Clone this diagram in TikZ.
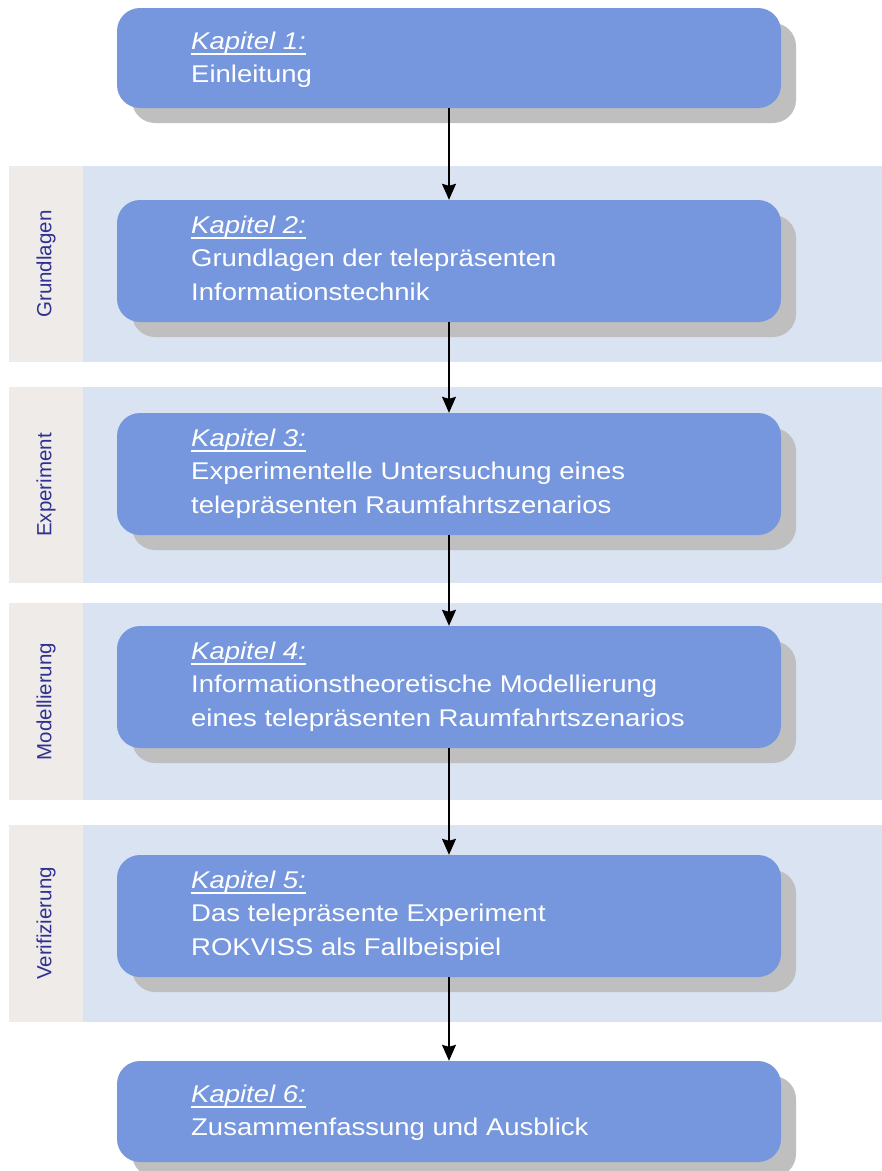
\documentclass[tikz,border=0pt]{standalone}
\usepackage{fontspec}
\setmainfont{Liberation Sans}
\newfontfamily\chapfont[FakeStretch=1.136]{Liberation Sans}
\usetikzlibrary{shadows,arrows.meta}

\definecolor{boxblue}{RGB}{118,151,221}
\definecolor{shadowgray}{RGB}{191,191,191}
\definecolor{bandblue}{RGB}{218,227,241}
\definecolor{colgray}{RGB}{238,235,232}
\definecolor{labblue}{RGB}{46,49,146}

% underlined italic heading line of a chapter box
\newcommand\kapline[1]{\setbox0\hbox{\itshape #1}\rlap{\rule[-5.5pt]{\wd0}{1.4pt}}\box0}
\newcommand\tline[1]{\hbox{#1}}
% chapter text block; its baseline is that of the first line
\newcommand\chaptext[2]{\vtop{\chapfont\fontsize{24.2}{33.5}\selectfont\hbox{\kapline{#1}}#2}}

\tikzset{
  chapbox/.style={rectangle, rounded corners=23pt, fill=boxblue, draw=none,
    minimum width=664pt, inner sep=0pt,
    drop shadow={shadow xshift=15pt, shadow yshift=-15pt, fill=shadowgray, opacity=1}},
  chaptxt/.style={anchor=base west, inner sep=0pt, text=white},
  lab/.style={rotate=90, text=labblue, inner sep=0pt, font=\fontsize{20.5}{24}\selectfont},
  arr/.style={-{Stealth[length=16pt,width=14pt,inset=2pt]}, line width=1.3pt, black},
}

\begin{document}
\begin{tikzpicture}[x=1pt,y=-1pt]
\useasboundingbox (0,0) rectangle (882,1171);

% section bands with their label column
\foreach \top/\bot in {166/362, 387/583, 603/800, 825/1022}{
  \fill[bandblue] (9,\top) rectangle (882,\bot);
  \fill[colgray] (9,\top) rectangle (83,\bot);
}
\node[lab] (l1) at (46,264) {Grundlagen};
\node[lab] (l2) at (46,485) {Experiment};
\node[lab] (l3) at (46,701.5) {Modellierung};
\node[lab] (l4) at (46,923.5) {Verifizierung};

% chapter boxes
\node[chapbox, minimum height=100pt] (b1) at (449,58) {};
\node[chapbox, minimum height=122pt] (b2) at (449,261) {};
\node[chapbox, minimum height=122pt] (b3) at (449,474) {};
\node[chapbox, minimum height=122pt] (b4) at (449,687) {};
\node[chapbox, minimum height=122pt] (b5) at (449,916) {};
\node[chapbox, minimum height=101pt] (b6) at (449,1111.5) {};

% chapter texts
\node[chaptxt] (t1) at (191,49) {\chaptext{Kapitel 1:}{\tline{Einleitung}}};
\node[chaptxt] (t2) at (191,233) {\chaptext{Kapitel 2:}{\tline{Grundlagen der telepräsenten}\tline{Informationstechnik}}};
\node[chaptxt] (t3) at (191,446) {\chaptext{Kapitel 3:}{\tline{Experimentelle Untersuchung eines}\tline{telepräsenten Raumfahrtszenarios}}};
\node[chaptxt] (t4) at (191,659) {\chaptext{Kapitel 4:}{\tline{Informationstheoretische Modellierung}\tline{eines telepräsenten Raumfahrtszenarios}}};
\node[chaptxt] (t5) at (191,888) {\chaptext{Kapitel 5:}{\tline{Das telepräsente Experiment}\tline{ROKVISS als Fallbeispiel}}};
\node[chaptxt] (t6) at (191,1102) {\chaptext{Kapitel 6:}{\tline{Zusammenfassung und Ausblick}}};

% flow
\draw[arr] (b1) -- (b2);
\draw[arr] (b2) -- (b3);
\draw[arr] (b3) -- (b4);
\draw[arr] (b4) -- (b5);
\draw[arr] (b5) -- (b6);
\end{tikzpicture}
\end{document}
